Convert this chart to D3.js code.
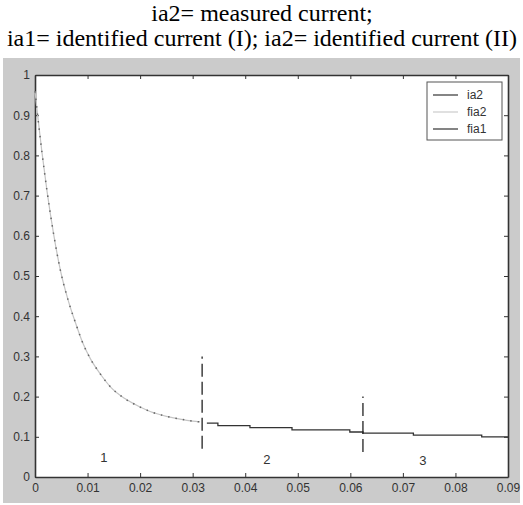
<!DOCTYPE html>
<html>
<head>
<meta charset="utf-8">
<style>
  body { margin: 0; background: #fff; }
  .ttl { font-family: "Liberation Serif", "Times New Roman", Times, "DejaVu Serif", serif; }
</style>
</head>
<body>
<div id="chart"></div>
<script src="https://cdn.jsdelivr.net/npm/d3@7"></script>
<script>
// measured / identified current, section 1 (exponential part)
const curveT = [0, 0.0005, 0.0013, 0.0023, 0.0036, 0.0049, 0.0063, 0.0078, 0.0092, 0.0105,
                0.0125, 0.0143, 0.0171, 0.0200, 0.0219, 0.0250, 0.0276, 0.0300, 0.0314];
const curveV = [0.96, 0.90, 0.81, 0.71, 0.60, 0.51, 0.44, 0.38, 0.33, 0.295,
                0.255, 0.225, 0.195, 0.174, 0.163, 0.151, 0.144, 0.139, 0.137];
// identified current (I), stair steps in sections 2 and 3
const stepT = [0.0327, 0.0348, 0.0409, 0.0489, 0.0599, 0.0624, 0.0720, 0.0850, 0.0900];
const stepV = [0.134, 0.128, 0.123, 0.117, 0.112, 0.109, 0.104, 0.100, 0.100];
// section boundaries [t, bottom, top]
const bounds = [[0.0318, 0.07, 0.30], [0.0624, 0.062, 0.20]];
const sections = [{ label: "1", t: 0.0131, v: 0.037 }, { label: "2", t: 0.0441, v: 0.032 }, { label: "3", t: 0.0738, v: 0.030 }];
const xTicks = [0, 0.01, 0.02, 0.03, 0.04, 0.05, 0.06, 0.07, 0.08, 0.09];
const yTicks = [0, 0.1, 0.2, 0.3, 0.4, 0.5, 0.6, 0.7, 0.8, 0.9, 1];
const legendNames = ["ia2", "fia2", "fia1"];
const legendColors = ["#333", "#ccc", "#333"];
const titleLines = ["ia2= measured current;", "ia1= identified current (I); ia2= identified current (II)"];

const W = 523, H = 505;
const sans = "'Liberation Sans', Arial, sans-serif";
const svg = d3.select("#chart").append("svg").attr("width", W).attr("height", H);

// title
svg.selectAll(".ttl").data(titleLines).join("text")
  .attr("class", "ttl")
  .attr("x", 262).attr("y", (d, i) => 21 + i * 25).attr("text-anchor", "middle")
  .attr("font-size", 24).attr("fill", "#000").text(d => d);

// figure background
svg.append("rect").attr("x", 3).attr("y", 58).attr("width", 517).attr("height", 445).attr("fill", "#cbcbcb");

const pLeft = 35, pRight = 508, pTop = 75, pBottom = 477;
const x = d3.scaleLinear().domain([0, 0.09]).range([pLeft, pRight]);
const y = d3.scaleLinear().domain([0, 1]).range([pBottom, pTop]);

svg.append("rect").attr("x", pLeft).attr("y", pTop).attr("width", pRight - pLeft).attr("height", pBottom - pTop).attr("fill", "#fff");

const axisCol = "#333";

const gx = svg.append("g").attr("transform", `translate(0,${pBottom})`)
  .call(d3.axisBottom(x).tickValues(xTicks).tickSizeInner(-4).tickSizeOuter(0).tickPadding(6)
    .tickFormat(d => d === 0 ? "0" : d3.format(".2f")(d)));
const gxt = svg.append("g").attr("transform", `translate(0,${pTop})`)
  .call(d3.axisTop(x).tickValues(xTicks).tickSizeInner(-4).tickSizeOuter(0).tickFormat(""));
const gy = svg.append("g").attr("transform", `translate(${pLeft},0)`)
  .call(d3.axisLeft(y).tickValues(yTicks).tickSizeInner(-4).tickSizeOuter(0).tickPadding(5)
    .tickFormat(d => d === 0 ? "0" : d === 1 ? "1" : d3.format(".1f")(d)));
const gyr = svg.append("g").attr("transform", `translate(${pRight},0)`)
  .call(d3.axisRight(y).tickValues(yTicks).tickSizeInner(-4).tickSizeOuter(0).tickFormat(""));

[gx, gxt, gy, gyr].forEach(g => {
  g.attr("font-family", sans).attr("font-size", 12);
  g.select(".domain").attr("stroke", axisCol).attr("stroke-width", 1.6);
  g.selectAll(".tick line").attr("stroke", axisCol);
  g.selectAll(".tick text").attr("fill", "#333");
});

// curves
const line = d3.line().x(d => x(d[0])).y(d => y(d[1])).curve(d3.curveMonotoneX);
const curve = curveT.map((t, i) => [t, curveV[i]]);
svg.append("path").datum(curve).attr("d", line)
  .attr("fill", "none").attr("stroke", "#c4c4c4").attr("stroke-width", 1.2);
svg.append("path").datum(curve).attr("d", line)
  .attr("fill", "none").attr("stroke", "#666").attr("stroke-width", 1.5).attr("stroke-dasharray", "1.5,6");

const steps = stepT.map((t, i) => [t, stepV[i]]);
svg.append("path").datum(steps).attr("d", d3.line().x(d => x(d[0])).y(d => y(d[1])).curve(d3.curveStepAfter))
  .attr("fill", "none").attr("stroke", "#333").attr("stroke-width", 1.3);

// section boundaries
svg.selectAll(".bound").data(bounds).join("line")
  .attr("x1", d => x(d[0])).attr("x2", d => x(d[0]))
  .attr("y1", d => y(d[1])).attr("y2", d => y(d[2]))
  .attr("stroke", "#222").attr("stroke-width", 1.3).attr("stroke-dasharray", "13,5");

svg.selectAll(".sec").data(sections).join("text")
  .attr("x", d => x(d.t)).attr("y", d => y(d.v)).attr("text-anchor", "middle")
  .attr("font-family", sans).attr("font-size", 13).attr("fill", "#333").text(d => d.label);

// legend
const lg = svg.append("g").attr("transform", "translate(427,82)");
lg.append("rect").attr("width", 75).attr("height", 58).attr("fill", "#fff").attr("stroke", "#555");
legendNames.forEach((n, i) => {
  const ly = 13 + i * 17;
  lg.append("line").attr("x1", 6).attr("x2", 31).attr("y1", ly).attr("y2", ly)
    .attr("stroke", legendColors[i]).attr("stroke-width", 1.2);
  lg.append("text").attr("x", 40).attr("y", ly + 4).attr("font-family", sans)
    .attr("font-size", 12).attr("fill", "#333").text(n);
});
</script>
</body>
</html>
